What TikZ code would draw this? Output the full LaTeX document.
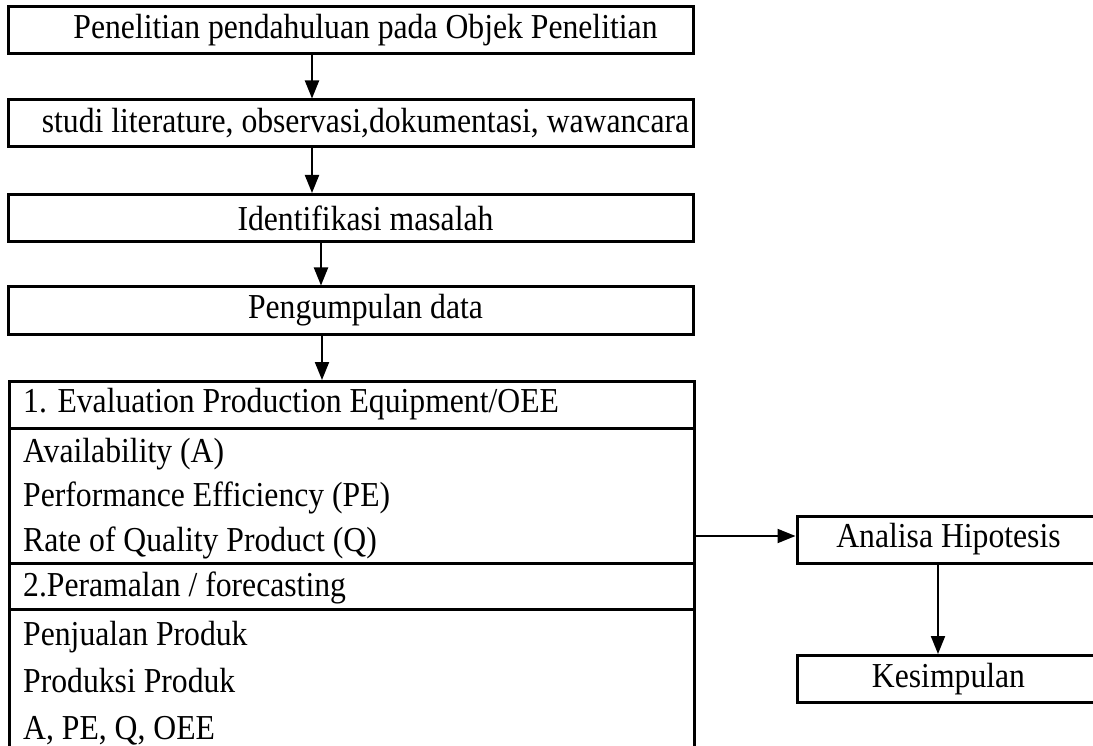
\documentclass[tikz,border=0pt]{standalone}
\usepackage{fontspec}
\usepackage{graphicx}
\setmainfont{Liberation Serif}
\usetikzlibrary{arrows.meta}
\newcommand{\narrow}[1]{\scalebox{0.905}[1]{#1}}
\begin{document}
\begin{tikzpicture}[x=1pt,y=-1pt,
  box/.style={draw, line width=3pt, inner sep=0pt, minimum width=685pt, minimum height=47pt, font=\fontsize{35}{42}\selectfont},
  sidebox/.style={draw, line width=3pt, inner sep=0pt, minimum width=303pt, minimum height=47pt, font=\fontsize{35}{42}\selectfont},
  rowtxt/.style={anchor=west, inner sep=0pt, text height=24pt, text depth=8pt, font=\fontsize{35}{42}\selectfont},
  arr/.style={line width=2pt, -{Triangle[width=14pt,length=18pt]}},
  rule/.style={line width=3pt}
]
\useasboundingbox (0,0) rectangle (1093,746);
\clip (0,0) rectangle (1093,746);
% top boxes
\node[box] (b1) at (350.5,30.5) {\hspace*{30pt}\narrow{Penelitian pendahuluan pada Objek Penelitian}};
\node[box] (b2) at (350.5,123.5) {\hspace*{30pt}\narrow{studi literature, observasi,dokumentasi, wawancara}};
\node[box] (b3) at (350.5,218) {\hspace*{30pt}\narrow{Identifikasi masalah}};
\node[box] (b4) at (350.5,310.5) {\hspace*{30pt}\narrow{Pengumpulan data}};
% big box (open at the bottom)
\node[draw, line width=3pt, inner sep=0pt, minimum width=685pt, minimum height=420pt, anchor=north west] (b5) at (8,380) {};
\draw[rule] (b5.west |- 0,428) -- (b5.east |- 0,428);
\draw[rule] (b5.west |- 0,563) -- (b5.east |- 0,563);
\draw[rule] (b5.west |- 0,609) -- (b5.east |- 0,609);
\node[rowtxt] (r1) at (23,404) {\narrow{1. Evaluation Production Equipment/OEE}};
\node[rowtxt] (r2) at (23,454) {\narrow{Availability (A)}};
\node[rowtxt] (r3) at (23,498) {\narrow{Performance Efficiency (PE)}};
\node[rowtxt] (r4) at (23,543) {\narrow{Rate of Quality Product (Q)}};
\node[rowtxt] (r5) at (23,588) {\narrow{2.Peramalan / forecasting}};
\node[rowtxt] (r6) at (23,637) {\narrow{Penjualan Produk}};
\node[rowtxt] (r7) at (23,684) {\narrow{Produksi Produk}};
\node[rowtxt] (r8) at (23,731) {\narrow{A, PE, Q, OEE}};
% right boxes
\node[sidebox] (an) at (948.5,539.5) {\narrow{Analisa Hipotesis}};
\node[sidebox] (ke) at (948.5,679) {\narrow{Kesimpulan}};
% arrows
\draw[arr] ([xshift=-38.5pt]b1.south) -- ([xshift=-38.5pt]b2.north);
\draw[arr] ([xshift=-38.5pt]b2.south) -- ([xshift=-38.5pt]b3.north);
\draw[arr] ([xshift=-29.5pt]b3.south) -- ([xshift=-29.5pt]b4.north);
\draw[arr] ([xshift=-28.5pt]b4.south) -- (322,380);
\coordinate (h) at ([yshift=3.5pt]an.west);
\draw[arr] (h -| b5.east) -- (h);
\draw[arr] ([xshift=-10.5pt]an.south) -- ([xshift=-10.5pt]ke.north);
\end{tikzpicture}
\end{document}
